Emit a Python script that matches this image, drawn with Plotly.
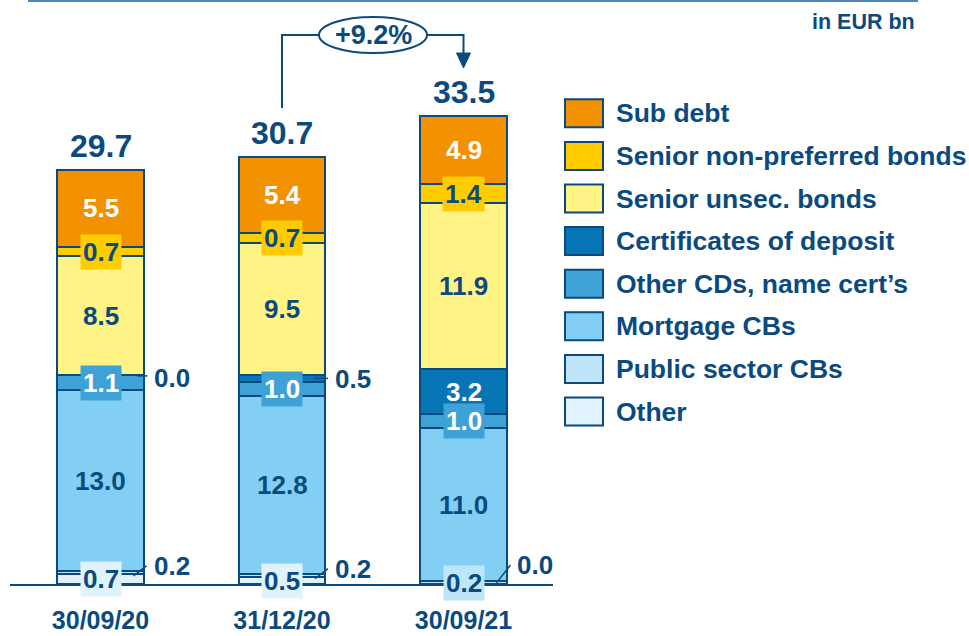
import plotly.graph_objects as go

# ---------------- data ----------------
categories = ["30/09/20", "31/12/20", "30/09/21"]
series_names = ["Other", "Public sector CBs", "Mortgage CBs", "Other CDs, name cert’s",
                "Certificates of deposit", "Senior unsec. bonds",
                "Senior non-preferred bonds", "Sub debt"]
other = [0.7, 0.5, 0.0]
public_sector = [0.2, 0.2, 0.2]
mortgage = [13.0, 12.8, 11.0]
other_cds = [1.1, 1.0, 1.0]
cds = [0.0, 0.5, 3.2]
senior_unsec = [8.5, 9.5, 11.9]
senior_np = [0.7, 0.7, 1.4]
sub_debt = [5.5, 5.4, 4.9]
totals = [29.7, 30.7, 33.5]
growth_label = "+9.2%"
unit_label = "in EUR bn"

values = [other, public_sector, mortgage, other_cds, cds, senior_unsec, senior_np, sub_debt]

# ---------------- style ----------------
NAVY = "#0B4A7E"
FONT = "Liberation Sans"
colors = ["#E0F2FC", "#BEE5F9", "#83CFF3", "#3EA2D7", "#0774B5", "#FFF385", "#FFCC00", "#F39200"]
text_colors = [NAVY, NAVY, NAVY, "white", "white", NAVY, NAVY, "white"]
boxed = [True, True, False, True, False, False, True, False]

# callouts: (series index, bar index) -> (dx0, dy0, dx1, dy1, text dy) in px
callouts = {
    (1, 0): (33, 3, 46, -7, -7),
    (1, 1): (33, 3, 46, -7, -7),
    (0, 2): (33, -1, 47, -19, -19),
    (4, 0): (37, 1, 47, 1, 3),
    (4, 1): (32, 0, 46, 0, 1),
}

# layout geometry (px)
W, H = 969, 636
L, R_PX, T, B_PX = 10, 553, 10, 584
X0, X1 = -0.4986, 2.4931
YMAX = 41.18
BAR_W = 0.479


def xd(px):
    return X0 + (px - L) / (R_PX - L) * (X1 - X0)


def yd(py):
    return (B_PX - py) / (B_PX - T) * YMAX


def x_px(x):
    return L + (x - X0) / (X1 - X0) * (R_PX - L)


def y_px(y):
    return B_PX - y / YMAX * (B_PX - T)


def xp(px):
    return (px - L) / (R_PX - L)


def yp(py):
    return (B_PX - py) / (B_PX - T)


xs = list(range(len(categories)))

fig = go.Figure()
for name, vals, col in zip(series_names, values, colors):
    fig.add_trace(go.Bar(
        x=xs, y=vals, name=name, width=BAR_W,
        marker=dict(color=col, line=dict(color=NAVY, width=2)),
        hoverinfo="name+y", showlegend=False,
    ))

annotations = []
shapes = []

# segment labels
for i in xs:
    base = 0.0
    for s, vals in enumerate(values):
        v = vals[i]
        mid = base + v / 2
        txt = f"<b>{v:.1f}</b>"
        cx = x_px(i)
        my = y_px(mid)
        if (s, i) in callouts:
            dx0, dy0, dx1, dy1, tdy = callouts[(s, i)]
            shapes.append(dict(type="line", xref="x", yref="y",
                               x0=xd(cx + dx0), y0=yd(my + dy0),
                               x1=xd(cx + dx1), y1=yd(my + dy1),
                               line=dict(color=NAVY, width=1.5)))
            annotations.append(dict(x=xd(cx + 51), y=yd(my + tdy), xref="x", yref="y",
                                    text=txt, showarrow=False, xanchor="left", yanchor="middle",
                                    font=dict(family=FONT, size=26, color=NAVY)))
        else:
            a = dict(x=i, y=mid, xref="x", yref="y", text=txt, showarrow=False,
                     xanchor="center", yanchor="middle",
                     font=dict(family=FONT, size=26, color=text_colors[s]))
            if boxed[s]:
                a.update(bgcolor=colors[s], borderpad=2)
            annotations.append(a)
        base += v

# totals
for i in xs:
    top = sum(vals[i] for vals in values)
    annotations.append(dict(x=i, y=top, xref="x", yref="y", text=f"<b>{totals[i]:.1f}</b>",
                            showarrow=False, xanchor="center", yanchor="bottom", yshift=4,
                            font=dict(family=FONT, size=32, color=NAVY)))

# growth arrow
c1, c2 = x_px(1), x_px(2)
shapes.append(dict(type="path", xref="x", yref="y",
                   path=f"M {xd(c1)},{yd(108)} L {xd(c1)},{yd(35)} L {xd(319)},{yd(35)}",
                   line=dict(color=NAVY, width=2)))
shapes.append(dict(type="path", xref="x", yref="y",
                   path=f"M {xd(427)},{yd(35)} L {xd(c2)},{yd(35)} L {xd(c2)},{yd(54)}",
                   line=dict(color=NAVY, width=2)))
shapes.append(dict(type="path", xref="x", yref="y",
                   path=f"M {xd(c2-7)},{yd(53)} L {xd(c2+7)},{yd(53)} L {xd(c2)},{yd(68)} Z",
                   fillcolor=NAVY, line=dict(color=NAVY, width=1)))
shapes.append(dict(type="circle", xref="x", yref="y",
                   x0=xd(319), x1=xd(427), y0=yd(53), y1=yd(17),
                   fillcolor="white", line=dict(color=NAVY, width=2)))
annotations.append(dict(x=xd(373), y=yd(35), xref="x", yref="y", text=f"<b>{growth_label}</b>",
                        showarrow=False, xanchor="center", yanchor="middle",
                        font=dict(family=FONT, size=27, color=NAVY)))

# top rule and unit label
shapes.append(dict(type="line", xref="paper", yref="paper", x0=xp(28), x1=xp(918),
                   y0=yp(1), y1=yp(1), line=dict(color="#4F86B8", width=2)))
annotations.append(dict(x=xp(917), y=yp(22), xref="paper", yref="paper", text=f"<b>{unit_label}</b>",
                        showarrow=False, xanchor="right", yanchor="middle",
                        font=dict(family=FONT, size=21.5, color=NAVY)))

# custom legend (top = Sub debt)
for k, s in enumerate(reversed(range(len(series_names)))):
    cy = 113.3 + 42.6 * k
    shapes.append(dict(type="rect", xref="paper", yref="paper",
                       x0=xp(565), x1=xp(603), y0=yp(cy + 14), y1=yp(cy - 14),
                       fillcolor=colors[s], line=dict(color=NAVY, width=2)))
    annotations.append(dict(x=xp(614), y=yp(cy), xref="paper", yref="paper",
                            text=f"<b>{series_names[s]}</b>", showarrow=False,
                            xanchor="left", yanchor="middle",
                            font=dict(family=FONT, size=26.5, color=NAVY)))

fig.update_layout(
    width=W, height=H, barmode="stack", bargap=0, autosize=False,
    margin=dict(l=L, r=W - R_PX, t=T, b=H - B_PX, pad=0, autoexpand=False),
    paper_bgcolor="white", plot_bgcolor="white",
    xaxis=dict(range=[X0, X1], tickvals=xs, ticktext=[f"<b>{c}</b>" for c in categories],
               showline=True, linecolor=NAVY, linewidth=2, showgrid=False, zeroline=False,
               ticks="outside", ticklen=13, tickcolor="rgba(0,0,0,0)", automargin=False,
               tickfont=dict(family=FONT, size=25, color=NAVY), fixedrange=True),
    yaxis=dict(range=[0, YMAX], visible=False, fixedrange=True, automargin=False),
    annotations=annotations, shapes=shapes, showlegend=False,
)

fig.write_html("out.html", config={"displayModeBar": False},
               post_script="document.body.style.margin='0';document.body.style.overflow='hidden';")
